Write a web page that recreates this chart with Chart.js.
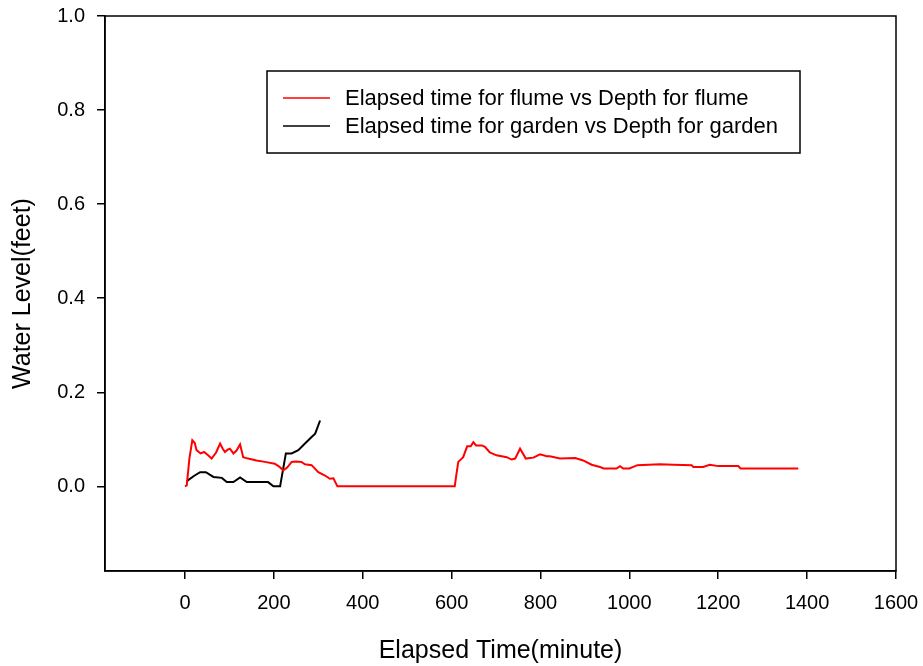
<!DOCTYPE html>
<html>
<head>
<meta charset="utf-8">
<script src="https://cdn.jsdelivr.net/npm/chart.js@4"></script>
<style>
  html, body { margin: 0; padding: 0; background: #fff; }
  #chart { display: block; }
</style>
</head>
<body>
<canvas id="chart" width="923" height="666"></canvas>
<script>
// flume series (minutes, feet)
var flumeTime = [0, 4, 10, 16.5, 22, 26, 35, 43, 52, 60, 70, 79, 85, 90, 96, 101, 109, 116, 124, 131, 142, 161, 180, 202, 212, 221, 230, 240, 250, 262, 270, 285, 300, 315, 326, 334, 343,
  600, 607, 611, 615, 626, 635, 643, 649, 655, 668, 675, 686, 701, 724, 735, 743, 754, 767, 784, 799, 814, 821, 844, 878, 896, 915, 934, 942, 971, 979, 986, 1000, 1018, 1069, 1099, 1140, 1144, 1166, 1181, 1200, 1245, 1250, 1380];
var flumeDepth = [0, 0.002, 0.06, 0.098, 0.092, 0.077, 0.07, 0.073, 0.066, 0.059, 0.072, 0.091, 0.08, 0.073, 0.078, 0.08, 0.07, 0.076, 0.089, 0.062, 0.059, 0.055, 0.052, 0.048, 0.042, 0.034, 0.04, 0.052, 0.053, 0.052, 0.047, 0.045, 0.03, 0.023, 0.016, 0.017, 0,
  0, 0, 0.027, 0.052, 0.062, 0.085, 0.085, 0.094, 0.087, 0.087, 0.084, 0.072, 0.066, 0.062, 0.057, 0.059, 0.08, 0.059, 0.061, 0.068, 0.064, 0.064, 0.059, 0.06, 0.055, 0.046, 0.041, 0.038, 0.038, 0.043, 0.038, 0.038, 0.045, 0.047, 0.046, 0.045, 0.041, 0.041, 0.046, 0.043, 0.043, 0.038, 0.038];

// garden series
var gardenTime = [4, 20, 34, 47, 64, 83, 94, 109, 124, 139, 187, 199, 214, 227, 240, 255, 270, 285, 293, 304];
var gardenDepth = [0.011, 0.022, 0.030, 0.030, 0.020, 0.018, 0.009, 0.009, 0.019, 0.009, 0.009, 0.0, 0.0, 0.07, 0.07, 0.077, 0.091, 0.105, 0.112, 0.14];

var xTicks = [0, 200, 400, 600, 800, 1000, 1200, 1400, 1600];
var yTicks = [0, 0.2, 0.4, 0.6, 0.8, 1.0];

function toPoints(xs, ys) {
  return xs.map(function (x, i) { return { x: x, y: ys[i] }; });
}

const frame = {
  id: "frame",
  afterDraw(chart) {
    const a = chart.chartArea;
    const ctx = chart.ctx;
    ctx.save();
    ctx.strokeStyle = "#000";
    ctx.lineWidth = 1.5;
    ctx.strokeRect(a.left, a.top, a.right - a.left, a.bottom - a.top);
    ctx.restore();
  }
};

// legend box drawn inside the plot
const boxLegend = {
  id: "boxLegend",
  afterDraw(chart) {
    const ctx = chart.ctx;
    const left = 267, top = 71, w = 533, h = 82;
    ctx.save();
    ctx.fillStyle = "#fff";
    ctx.fillRect(left, top, w, h);
    ctx.strokeStyle = "#000";
    ctx.lineWidth = 1.5;
    ctx.strokeRect(left, top, w, h);
    ctx.font = "22px 'Liberation Sans', Arial, sans-serif";
    ctx.textBaseline = "middle";
    chart.data.datasets.forEach(function (ds, i) {
      const y = 98 + i * 28;
      ctx.strokeStyle = ds.borderColor;
      ctx.lineWidth = 1.5;
      ctx.beginPath();
      ctx.moveTo(283, y);
      ctx.lineTo(330, y);
      ctx.stroke();
      ctx.fillStyle = "#000";
      ctx.fillText(ds.label, 345, y + 1);
    });
    ctx.restore();
  }
};

const tickFont = { family: "'Liberation Sans', Arial, sans-serif", size: 20 };
const titleFont = { family: "'Liberation Sans', Arial, sans-serif", size: 25 };

new Chart(document.getElementById("chart"), {
  type: "scatter",
  data: {
    datasets: [
      {
        label: "Elapsed time for flume vs Depth for flume",
        data: toPoints(flumeTime, flumeDepth),
        showLine: true,
        borderColor: "#ff0000",
        backgroundColor: "#ff0000",
        borderWidth: 2,
        pointRadius: 0,
        tension: 0
      },
      {
        label: "Elapsed time for garden vs Depth for garden",
        data: toPoints(gardenTime, gardenDepth),
        showLine: true,
        borderColor: "#000000",
        backgroundColor: "#000000",
        borderWidth: 2,
        pointRadius: 0,
        tension: 0
      }
    ]
  },
  options: {
    responsive: false,
    animation: false,
    layout: { padding: { top: 16, right: 27, left: 0, bottom: 0 } },
    plugins: { legend: { display: false }, tooltip: { enabled: false } },
    scales: {
      x: {
        type: "linear",
        min: -180,
        max: 1600,
        afterFit(scale) {
          scale.height = 95;
          scale.paddingLeft = 0;
          scale.paddingRight = 0;
        },
        afterBuildTicks(scale) { scale.ticks = xTicks.map(function (v) { return { value: v }; }); },
        border: { color: "#000", width: 1.5 },
        grid: { drawOnChartArea: false, drawTicks: true, tickLength: 8, color: "#000", lineWidth: 1.5 },
        ticks: { color: "#000", font: tickFont, padding: 12, maxRotation: 0,
          callback: function (v) { return String(v); } },
        title: { display: true, text: "Elapsed Time(minute)", color: "#000", font: titleFont, padding: { top: 0, bottom: 0 } }
      },
      y: {
        type: "linear",
        min: -0.18,
        max: 1.0,
        afterFit(scale) {
          scale.width = 105;
          scale.paddingTop = 0;
          scale.paddingBottom = 0;
        },
        afterBuildTicks(scale) { scale.ticks = yTicks.map(function (v) { return { value: v }; }); },
        border: { color: "#000", width: 1.5 },
        grid: { drawOnChartArea: false, drawTicks: true, tickLength: 8, color: "#000", lineWidth: 1.5 },
        ticks: { color: "#000", font: tickFont, padding: 12,
          callback: function (v) { return Number(v).toFixed(1); } },
        title: { display: true, text: "Water Level(feet)", color: "#000", font: titleFont, padding: { top: 8, bottom: 2 } }
      }
    }
  },
  plugins: [frame, boxLegend]
});
</script>
</body>
</html>
